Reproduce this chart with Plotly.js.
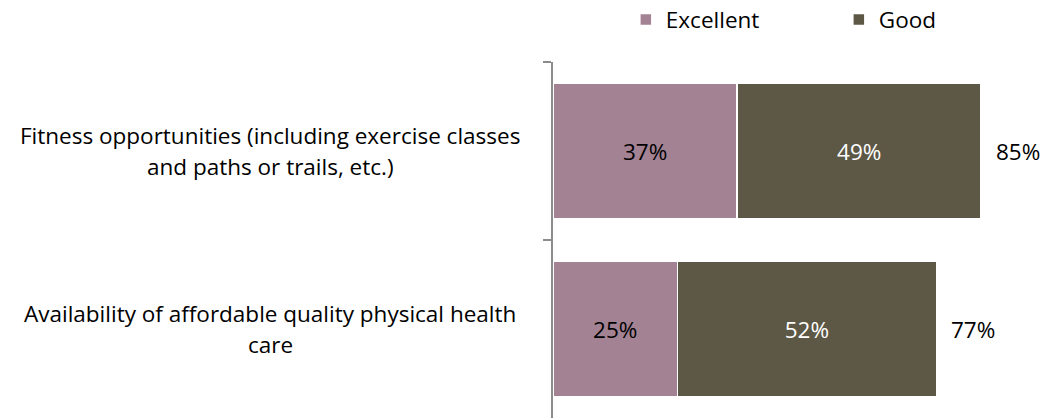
<!DOCTYPE html>
<html>
<head>
<meta charset="utf-8">
<script src="https://cdn.plot.ly/plotly-3.0.1.min.js"></script>
<style>html,body{margin:0;padding:0;background:#fff;}#chart{width:1047px;height:418px;}</style>
</head>
<body>
<div id="chart"></div>
<script>
const categories = [
  "Fitness opportunities (including exercise classes<br>and paths or trails, etc.)",
  "Availability of affordable quality physical health<br>care"
];
const excellent = [37, 25];
const good = [49, 52];
const totals = [85, 77];
const seriesNames = ["Excellent", "Good"];
const colors = ["#A38294", "#5D5745"];

const FONT = "'Open Sans', 'Liberation Sans', sans-serif";
const FS = 22.5;
const ids = ["c0", "c1"];

const traces = [
  {
    type: "bar", orientation: "h", name: seriesNames[0],
    y: ids, x: excellent,
    text: excellent.map(v => v + "%"),
    textposition: "inside", insidetextanchor: "middle",
    textfont: {color: "#000000", size: FS, family: FONT},
    marker: {color: colors[0], line: {color: "#ffffff", width: 1.5}},
    hoverinfo: "skip"
  },
  {
    type: "bar", orientation: "h", name: seriesNames[1],
    y: ids, x: good,
    text: good.map(v => v + "%"),
    textposition: "inside", insidetextanchor: "middle",
    textfont: {color: "#ffffff", size: FS, family: FONT},
    marker: {color: colors[1], line: {color: "#ffffff", width: 1.5}},
    hoverinfo: "skip"
  }
];

const annotations = [];
ids.forEach((id, i) => {
  annotations.push({
    xref: "x", yref: "y", x: excellent[i] + good[i], y: id,
    text: totals[i] + "%", showarrow: false,
    xanchor: "left", yanchor: "middle", xshift: 13,
    font: {size: FS, color: "#000000", family: FONT}
  });
  const lines = categories[i].split("<br>");
  const spacing = 31;
  lines.forEach((ln, k) => {
    annotations.push({
      xref: "paper", yref: "y", x: 0, y: id, xshift: -283,
      yshift: ((lines.length - 1) / 2 - k) * spacing,
      text: ln, showarrow: false,
      xanchor: "center", yanchor: "middle", align: "center",
      font: {size: FS, color: "#000000", family: FONT}
    });
  });
});

const layout = {
  width: 1047, height: 418,
  margin: {l: 553, r: 21, t: 62, b: 0, autoexpand: false},
  paper_bgcolor: "#ffffff", plot_bgcolor: "#ffffff",
  barmode: "stack", bargap: 0.242,
  font: {family: FONT, size: FS, color: "#000000"},
  showlegend: true,
  legend: {
    orientation: "h", x: 0.154, xanchor: "left", y: 1.118, yanchor: "middle",
    font: {size: FS, family: FONT, color: "#000000"},
    entrywidth: 168, traceorder: "normal"
  },
  xaxis: {range: [0, 95], showgrid: false, zeroline: false, showticklabels: false, showline: false, fixedrange: true},
  yaxis: {
    type: "category", range: [1.5, -0.5],
    showline: true, linecolor: "#8C8C8C", linewidth: 2,
    ticks: "outside", tickson: "boundaries", ticklen: 8, tickcolor: "#8C8C8C", tickwidth: 2,
    showticklabels: false, showgrid: false, zeroline: false
  },
  annotations: annotations
};

Plotly.newPlot("chart", traces, layout, {displayModeBar: false, staticPlot: true});
</script>
</body>
</html>
